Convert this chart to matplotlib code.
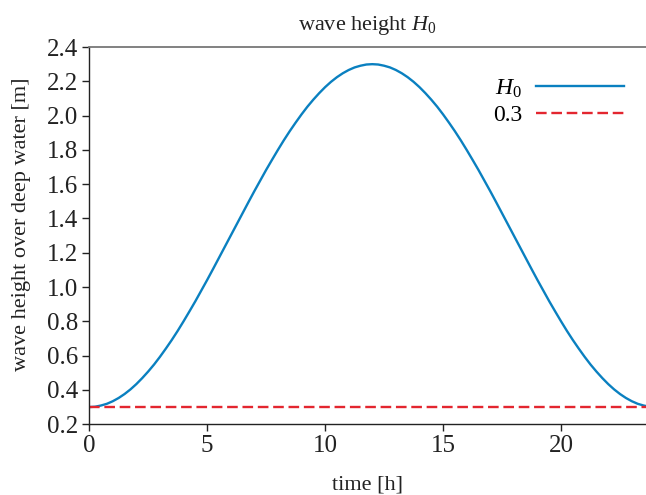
import numpy as np
import matplotlib
matplotlib.use("Agg")
import matplotlib.pyplot as plt

# ---- data (quarter-hour steps) ----
time_h = [i * 0.25 for i in range(97)]
H0 = [0.300, 0.302, 0.309, 0.319, 0.334, 0.353, 0.376, 0.403,
      0.434, 0.469, 0.507, 0.548, 0.593, 0.641, 0.691, 0.744,
      0.800, 0.858, 0.917, 0.979, 1.041, 1.105, 1.170, 1.235,
      1.300, 1.365, 1.430, 1.495, 1.559, 1.621, 1.683, 1.742,
      1.800, 1.856, 1.909, 1.959, 2.007, 2.052, 2.093, 2.131,
      2.166, 2.197, 2.224, 2.247, 2.266, 2.281, 2.291, 2.298,
      2.300,
      2.298, 2.291, 2.281, 2.266, 2.247, 2.224, 2.197, 2.166,
      2.131, 2.093, 2.052, 2.007, 1.959, 1.909, 1.856, 1.800,
      1.742, 1.683, 1.621, 1.559, 1.495, 1.430, 1.365, 1.300,
      1.235, 1.170, 1.105, 1.041, 0.979, 0.917, 0.858, 0.800,
      0.744, 0.691, 0.641, 0.593, 0.548, 0.507, 0.469, 0.434,
      0.403, 0.376, 0.353, 0.334, 0.319, 0.309, 0.302, 0.300]
deep_level = 0.3

x_ticks = [0, 5, 10, 15, 20]
y_ticks = [0.2, 0.4, 0.6, 0.8, 1.0, 1.2, 1.4, 1.6, 1.8, 2.0, 2.2, 2.4]

# ---- style ----
plt.rcParams['font.family'] = ['Liberation Serif', 'DejaVu Serif']
plt.rcParams['mathtext.fontset'] = 'custom'
plt.rcParams['mathtext.rm'] = 'Liberation Serif'
plt.rcParams['mathtext.it'] = 'Liberation Serif:italic'
plt.rcParams['font.size'] = 16

fig = plt.figure(figsize=(6.46, 4.95), dpi=100)
ax = fig.add_axes([0.138, 0.143, 0.862, 0.762])

ax.plot(time_h, H0, color='#0a80c0', lw=1.7, label=r'$H_0$')
ax.axhline(deep_level, color='#e3262f', lw=1.7, ls=(0, (4.5, 2)), label='0.3')

ax.set_xlim(0, 23.6)
ax.set_ylim(0.2, 2.4)
ax.set_xticks(x_ticks)
ax.set_yticks(y_ticks)
ax.set_yticklabels([f'{v:.1f}' for v in y_ticks])
ax.tick_params(labelsize=18, colors='#222222', length=5, width=1, pad=3)

ax.spines['right'].set_visible(False)
ax.spines['top'].set_color('#777777')
ax.spines['top'].set_linewidth(1.3)
for s in ('left', 'bottom'):
    ax.spines[s].set_color('#222222')
    ax.spines[s].set_linewidth(1.0)

ax.set_xlabel('time [h]', fontsize=16, color='#222222', labelpad=13)
ax.set_ylabel('wave height over deep water [m]', fontsize=16,
              color='#222222')
ax.yaxis.set_label_coords(-0.104, 0.53)
ax.set_title(r'wave height $H_0$', fontsize=16, color='#222222', pad=12)

ax.legend(loc='upper right', bbox_to_anchor=(0.998, 0.975), frameon=False,
          markerfirst=False, handlelength=3.7, fontsize=17,
          labelspacing=0.2, handletextpad=0.6)

fig.savefig('out.png', dpi=100)
